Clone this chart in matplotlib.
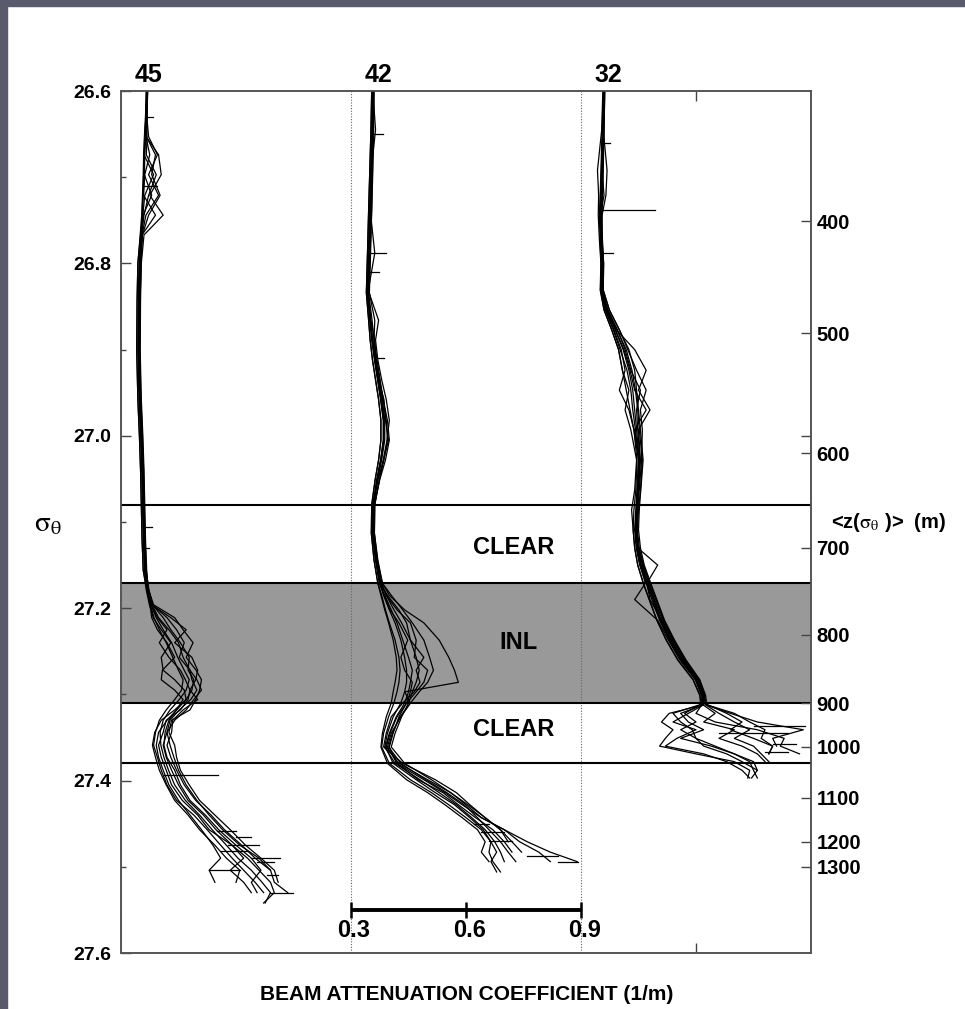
import numpy as np
import matplotlib
matplotlib.use('Agg')
import matplotlib.pyplot as plt
from matplotlib.patches import Rectangle
from matplotlib.ticker import MultipleLocator, FixedLocator

plt.rcParams['font.family'] = ['Liberation Sans', 'DejaVu Sans']
plt.rcParams['mathtext.fontset'] = 'stix'

nan = np.nan

# stations, left to right, each shifted by 0.6 1/m
stations = ['45', '42', '32']
offsets = [-0.6, 0.0, 0.6]

# isopycnal layer boundaries (sigma-theta)
clear_top = 27.080
inl_top = 27.171
inl_bot = 27.310
clear_bot = 27.380

# mean depth of the isopycnals (m) on the right axis
depth_labels = [400, 500, 600, 700, 800, 900, 1000, 1100, 1200, 1300]
depth_sigma = [26.751, 26.881, 27.020, 27.130, 27.231, 27.310, 27.361, 27.420, 27.471, 27.500]

# scale bar values (1/m)
scale_ticks = [0.3, 0.6, 0.9]

# ---- station 45 casts: beam attenuation c (1/m) vs sigma-theta
sig45 = [26.600, 26.628, 26.653, 26.674, 26.697, 26.721, 26.744, 26.767, 26.800, 26.842,
         26.900, 26.958, 27.000, 27.040, 27.080, 27.121, 27.156, 27.179, 27.196, 27.211,
         27.225, 27.240, 27.257, 27.272, 27.283, 27.295, 27.306, 27.318, 27.330, 27.344,
         27.359, 27.373, 27.388, 27.405, 27.423, 27.440, 27.457, 27.475, 27.490, 27.504,
         27.518, 27.530, 27.542]
casts45 = [
    [0.368, 0.366, 0.363, 0.361, 0.360, 0.358, 0.356, 0.352, 0.348, 0.346,
     0.345, 0.348, 0.352, 0.355, 0.357, 0.359, 0.362, 0.370, 0.378, 0.392,
     0.410, 0.432, 0.448, 0.465, 0.478, 0.470, 0.452, 0.428, 0.410, 0.402,
     0.404, 0.412, 0.424, 0.440, 0.468, 0.505, 0.538, 0.575, 0.605, 0.640,
     0.668, 0.690, 0.676],
    [0.370, 0.367, 0.372, 0.395, 0.372, 0.398, 0.365, 0.355, 0.352, 0.350,
     0.349, 0.352, 0.356, 0.359, 0.361, 0.363, 0.366, 0.372, 0.385, 0.440,
     0.462, 0.488, 0.470, 0.496, 0.510, 0.505, 0.495, 0.480, 0.432, 0.425,
     0.440, 0.445, 0.455, 0.478, 0.505, 0.545, 0.585, 0.625, 0.665, 0.700,
     0.710, nan, nan],
    [0.366, 0.365, 0.362, 0.360, 0.385, 0.362, 0.357, 0.351, 0.344, 0.342,
     0.341, 0.344, 0.348, 0.351, 0.353, 0.355, 0.358, 0.368, 0.376, 0.380,
     0.395, 0.420, 0.440, 0.408, 0.405, 0.440, 0.462, 0.445, 0.420, 0.398,
     0.392, 0.398, 0.410, 0.425, 0.450, 0.480, 0.510, 0.540, 0.560, 0.530,
     0.545, nan, nan],
    [0.368, 0.368, 0.365, 0.375, 0.362, 0.359, 0.390, 0.355, 0.349, 0.346,
     0.345, 0.348, 0.352, 0.355, 0.357, 0.360, 0.362, 0.371, 0.382, 0.410,
     0.430, 0.455, 0.478, 0.475, 0.490, 0.485, 0.470, 0.445, 0.425, 0.415,
     0.412, 0.420, 0.440, 0.455, 0.480, 0.520, 0.555, 0.600, 0.640, 0.665,
     0.640, 0.655, nan],
    [0.367, 0.366, 0.364, 0.362, 0.361, 0.380, 0.358, 0.353, 0.348, 0.346,
     0.345, 0.348, 0.352, 0.355, 0.357, 0.359, 0.362, 0.369, 0.377, 0.386,
     0.400, 0.418, 0.435, 0.450, 0.462, 0.458, 0.440, 0.418, 0.400, 0.390,
     0.385, 0.395, 0.405, 0.420, 0.445, 0.490, 0.525, 0.560, 0.590, 0.620,
     0.650, 0.672, nan],
    [0.369, 0.367, 0.366, 0.398, 0.405, 0.375, 0.410, 0.360, 0.353, 0.351,
     0.350, 0.353, 0.357, 0.360, 0.362, 0.364, 0.367, 0.371, 0.380, 0.430,
     0.470, 0.440, 0.485, 0.500, 0.495, 0.480, 0.500, 0.462, 0.435, 0.432,
     0.420, 0.430, 0.445, 0.465, 0.495, 0.535, 0.570, 0.615, 0.650, 0.690,
     nan, nan, nan],
    [0.368, 0.365, 0.363, 0.361, 0.359, 0.357, 0.355, 0.352, 0.348, 0.346,
     0.345, 0.348, 0.352, 0.355, 0.357, 0.359, 0.362, 0.370, 0.379, 0.395,
     0.420, 0.400, 0.425, 0.455, 0.468, 0.480, 0.475, 0.455, 0.418, 0.410,
     0.398, 0.405, 0.418, 0.432, 0.460, 0.500, 0.530, 0.590, 0.620, 0.585,
     0.620, 0.640, nan],
    [0.369, 0.368, 0.366, 0.390, 0.380, 0.402, 0.372, 0.356, 0.352, 0.350,
     0.349, 0.351, 0.355, 0.358, 0.360, 0.362, 0.365, 0.373, 0.383, 0.420,
     0.445, 0.465, 0.452, 0.480, 0.498, 0.510, 0.490, 0.470, 0.440, 0.420,
     0.428, 0.438, 0.450, 0.470, 0.498, 0.530, 0.565, 0.610, 0.660, 0.690,
     0.700, 0.735, nan],
    [0.366, 0.364, 0.361, 0.359, 0.358, 0.356, 0.354, 0.350, 0.344, 0.342,
     0.341, 0.344, 0.348, 0.351, 0.353, 0.355, 0.358, 0.366, 0.374, 0.384,
     0.405, 0.430, 0.405, 0.410, 0.440, 0.465, 0.470, 0.440, 0.405, 0.388,
     0.382, 0.390, 0.400, 0.418, 0.440, 0.475, 0.505, 0.545, 0.575, 0.610,
     0.600, nan, nan],
    [0.368, 0.367, 0.368, 0.366, 0.392, 0.372, 0.360, 0.354, 0.350, 0.348,
     0.347, 0.350, 0.354, 0.357, 0.359, 0.361, 0.364, 0.372, 0.381, 0.398,
     0.425, 0.450, 0.462, 0.480, 0.485, 0.498, 0.482, 0.452, 0.428, 0.420,
     0.410, 0.418, 0.432, 0.450, 0.475, 0.515, 0.548, 0.590, 0.630, 0.660,
     0.690, 0.700, 0.672],
]

# ---- station 42
sig42 = [26.600, 26.645, 26.692, 26.738, 26.788, 26.834, 26.866, 26.889, 26.912, 26.935,
         26.958, 26.982, 27.005, 27.028, 27.051, 27.080, 27.113, 27.144, 27.171, 27.185,
         27.202, 27.217, 27.237, 27.257, 27.272, 27.286, 27.297, 27.310, 27.326, 27.345,
         27.361, 27.380, 27.399, 27.414, 27.428, 27.443, 27.457, 27.471, 27.483, 27.494,
         27.506]
casts42 = [
    [0.357, 0.355, 0.352, 0.349, 0.346, 0.343, 0.350, 0.355, 0.362, 0.370,
     0.378, 0.385, 0.385, 0.378, 0.368, 0.358, 0.357, 0.365, 0.375, 0.385,
     0.400, 0.415, 0.430, 0.440, 0.445, 0.445, 0.440, 0.430, 0.410, 0.395,
     0.388, 0.415, 0.480, 0.530, 0.575, 0.615, 0.650, 0.675, 0.690, 0.700,
     nan],
    [0.360, 0.358, 0.356, 0.354, 0.350, 0.347, 0.372, 0.364, 0.370, 0.380,
     0.392, 0.400, 0.394, 0.384, 0.374, 0.362, 0.361, 0.370, 0.382, 0.400,
     0.440, 0.490, 0.530, 0.555, 0.570, 0.580, 0.440, 0.455, 0.430, 0.405,
     0.395, 0.420, 0.490, 0.545, 0.590, 0.640, 0.700, 0.760, 0.820, 0.890,
     nan],
    [0.354, 0.352, 0.349, 0.346, 0.343, 0.340, 0.346, 0.350, 0.356, 0.364,
     0.372, 0.378, 0.378, 0.372, 0.363, 0.354, 0.353, 0.360, 0.370, 0.380,
     0.390, 0.400, 0.415, 0.425, 0.428, 0.425, 0.420, 0.412, 0.398, 0.385,
     0.380, 0.400, 0.455, 0.510, 0.555, 0.600, 0.640, 0.665, 0.660, 0.670,
     0.690],
    [0.357, 0.356, 0.353, 0.350, 0.362, 0.344, 0.352, 0.362, 0.365, 0.372,
     0.386, 0.390, 0.398, 0.385, 0.370, 0.359, 0.358, 0.366, 0.378, 0.392,
     0.420, 0.455, 0.470, 0.465, 0.500, 0.490, 0.470, 0.445, 0.420, 0.402,
     0.392, 0.425, 0.500, 0.560, 0.600, 0.640, 0.700, 0.740, 0.790, 0.820,
     nan],
    [0.358, 0.357, 0.355, 0.351, 0.347, 0.344, 0.351, 0.357, 0.364, 0.373,
     0.382, 0.388, 0.388, 0.380, 0.370, 0.357, 0.356, 0.364, 0.374, 0.388,
     0.405, 0.420, 0.435, 0.450, 0.460, 0.455, 0.450, 0.440, 0.418, 0.400,
     0.390, 0.410, 0.470, 0.520, 0.570, 0.610, 0.645, 0.665, 0.680, 0.665,
     0.680],
    [0.356, 0.355, 0.352, 0.349, 0.346, 0.343, 0.349, 0.354, 0.361, 0.369,
     0.377, 0.384, 0.384, 0.377, 0.367, 0.357, 0.356, 0.364, 0.376, 0.395,
     0.425, 0.445, 0.455, 0.490, 0.470, 0.480, 0.465, 0.435, 0.405, 0.392,
     0.385, 0.435, 0.520, 0.575, 0.610, 0.650, 0.690, 0.710, nan, nan,
     nan],
    [0.357, 0.364, 0.353, 0.350, 0.347, 0.344, 0.350, 0.356, 0.363, 0.371,
     0.380, 0.386, 0.386, 0.378, 0.368, 0.358, 0.357, 0.365, 0.375, 0.386,
     0.402, 0.425, 0.448, 0.430, 0.440, 0.460, 0.455, 0.445, 0.425, 0.410,
     0.400, 0.420, 0.475, 0.540, 0.580, 0.625, 0.670, 0.700, 0.720, nan,
     nan],
    [0.360, 0.359, 0.357, 0.354, 0.351, 0.348, 0.362, 0.360, 0.368, 0.376,
     0.384, 0.392, 0.395, 0.386, 0.374, 0.362, 0.361, 0.369, 0.380, 0.392,
     0.412, 0.432, 0.455, 0.470, 0.478, 0.470, 0.460, 0.450, 0.432, 0.415,
     0.405, 0.440, 0.510, 0.560, 0.605, 0.650, 0.690, 0.720, 0.745, nan,
     nan],
    [0.354, 0.352, 0.349, 0.346, 0.343, 0.340, 0.346, 0.350, 0.356, 0.364,
     0.372, 0.378, 0.378, 0.372, 0.363, 0.354, 0.353, 0.360, 0.370, 0.378,
     0.388, 0.398, 0.410, 0.418, 0.420, 0.415, 0.410, 0.405, 0.392, 0.382,
     0.378, 0.395, 0.445, 0.500, 0.545, 0.590, 0.630, 0.650, 0.640, 0.660,
     nan],
    [0.359, 0.357, 0.355, 0.352, 0.349, 0.346, 0.355, 0.360, 0.366, 0.374,
     0.384, 0.395, 0.400, 0.390, 0.375, 0.361, 0.360, 0.368, 0.382, 0.405,
     0.435, 0.460, 0.490, 0.505, 0.515, 0.500, 0.478, 0.455, 0.428, 0.408,
     0.398, 0.430, 0.495, 0.550, 0.595, 0.630, 0.660, 0.690, 0.710, 0.730,
     nan],
]

# ---- station 32
sig32 = [26.600, 26.645, 26.692, 26.721, 26.744, 26.773, 26.800, 26.831, 26.854, 26.877,
         26.900, 26.924, 26.947, 26.970, 26.993, 27.028, 27.063, 27.086, 27.109, 27.130,
         27.150, 27.171, 27.190, 27.214, 27.237, 27.260, 27.283, 27.301, 27.312, 27.322,
         27.332, 27.341, 27.351, 27.360, 27.369, 27.378, 27.388, 27.397]
casts32 = [
    [0.360, 0.357, 0.354, 0.352, 0.350, 0.352, 0.355, 0.353, 0.366, 0.389,
     0.410, 0.425, 0.435, 0.440, 0.445, 0.452, 0.448, 0.445, 0.442, 0.445,
     0.455, 0.470, 0.485, 0.505, 0.530, 0.560, 0.600, 0.615,
     0.620, 0.530, 0.510, 0.540, 0.520, 0.505, 0.600, 0.700, 0.740, 0.735],
    [0.362, 0.360, 0.358, 0.356, 0.354, 0.355, 0.359, 0.358, 0.374, 0.400,
     0.422, 0.445, 0.470, 0.455, 0.460, 0.458, 0.452, 0.448, 0.446, 0.450,
     0.462, 0.478, 0.495, 0.515, 0.540, 0.570, 0.608, 0.622,
     0.625, 0.690, 0.760, 0.880, 0.800, 0.810, nan, nan, nan, nan],
    [0.357, 0.354, 0.343, 0.346, 0.345, 0.348, 0.352, 0.350, 0.360, 0.380,
     0.398, 0.408, 0.418, 0.428, 0.438, 0.446, 0.443, 0.438, 0.436, 0.440,
     0.448, 0.463, 0.478, 0.498, 0.523, 0.553, 0.593, 0.610,
     0.615, 0.600, 0.650, 0.760, 0.830, 0.820, 0.870, nan, nan, nan],
    [0.360, 0.358, 0.368, 0.365, 0.355, 0.352, 0.356, 0.354, 0.368, 0.392,
     0.440, 0.470, 0.450, 0.480, 0.450, 0.455, 0.450, 0.447, 0.445, 0.448,
     0.500, 0.472, 0.480, 0.510, 0.535, 0.565, 0.603, 0.618,
     0.620, 0.560, 0.580, 0.620, 0.560, 0.640, 0.700, 0.750, 0.760, nan],
    [0.360, 0.357, 0.353, 0.351, 0.349, 0.351, 0.355, 0.353, 0.364, 0.386,
     0.405, 0.415, 0.400, 0.425, 0.438, 0.450, 0.446, 0.443, 0.440, 0.444,
     0.453, 0.468, 0.440, 0.500, 0.528, 0.558, 0.598, 0.614,
     0.630, 0.680, 0.720, 0.690, 0.750, 0.800, 0.790, nan, nan, nan],
    [0.361, 0.358, 0.355, 0.360, 0.351, 0.353, 0.356, 0.355, 0.370, 0.395,
     0.415, 0.430, 0.455, 0.445, 0.448, 0.454, 0.450, 0.446, 0.443, 0.447,
     0.458, 0.474, 0.490, 0.508, 0.534, 0.565, 0.605, 0.618,
     0.610, 0.540, 0.560, 0.590, 0.600, 0.650, 0.700, 0.740, 0.750, 0.760],
    [0.359, 0.357, 0.354, 0.352, 0.350, 0.352, 0.354, 0.352, 0.363, 0.384,
     0.402, 0.420, 0.430, 0.435, 0.442, 0.450, 0.447, 0.444, 0.441, 0.446,
     0.456, 0.472, 0.488, 0.507, 0.532, 0.562, 0.600, 0.616,
     0.620, 0.580, 0.540, 0.600, 0.550, 0.520, 0.620, 0.680, 0.720, 0.740],
    [0.360, 0.358, 0.355, 0.353, 0.351, 0.353, 0.356, 0.354, 0.367, 0.390,
     0.412, 0.428, 0.440, 0.470, 0.440, 0.453, 0.449, 0.446, 0.444, 0.448,
     0.460, 0.476, 0.492, 0.512, 0.538, 0.568, 0.606, 0.620,
     0.618, 0.650, 0.620, 0.700, 0.660, 0.720, 0.760, 0.780, nan, nan],
    [0.362, 0.360, 0.357, 0.356, 0.354, 0.356, 0.359, 0.358, 0.374, 0.400,
     0.425, 0.440, 0.445, 0.450, 0.455, 0.462, 0.456, 0.452, 0.450, 0.455,
     0.465, 0.482, 0.498, 0.518, 0.544, 0.574, 0.610, 0.625,
     0.628, 0.700, 0.740, 0.780, 0.770, 0.800, 0.790, nan, nan, nan],
    [0.358, 0.355, 0.352, 0.350, 0.348, 0.350, 0.352, 0.351, 0.360, 0.380,
     0.398, 0.408, 0.425, 0.415, 0.430, 0.445, 0.440, 0.432, 0.436, 0.440,
     0.448, 0.462, 0.478, 0.498, 0.522, 0.552, 0.592, 0.610,
     0.612, 0.570, 0.600, 0.560, 0.600, 0.620, 0.680, 0.720, 0.760, 0.745],
    [0.361, 0.359, 0.356, 0.355, 0.353, 0.355, 0.358, 0.357, 0.370, 0.394,
     0.418, 0.433, 0.442, 0.448, 0.452, 0.460, 0.455, 0.450, 0.447, 0.452,
     0.463, 0.480, 0.496, 0.516, 0.542, 0.572, 0.608, 0.622,
     0.625, 0.660, 0.700, 0.740, 0.700, 0.750, 0.770, 0.790, nan, nan],
]

# single-scan spikes: station index, sigma, c from, c to
spike_station = [0, 0, 0, 0, 0, 0, 0, 0, 0, 0, 0, 0, 0, 0,
                 1, 1, 1, 1, 1, 1, 1, 1, 1,
                 2, 2, 2, 2, 2, 2, 2]
spike_sigma = [27.393, 27.475, 27.482, 27.490, 27.494, 27.504, 27.510, 27.530, 27.458,
               27.466, 26.630, 27.106, 26.710, 27.130,
               26.788, 26.810, 26.650, 27.494, 27.460, 27.470, 27.488, 27.450, 26.910,
               26.738, 26.788, 27.345, 27.337, 27.357, 27.367, 26.660]
spike_c0 = [0.412, 0.580, 0.560, 0.640, 0.655, 0.530, 0.680, 0.690, 0.550,
            0.600, 0.366, 0.358, 0.360, 0.359,
            0.346, 0.345, 0.356, 0.840, 0.640, 0.660, 0.760, 0.620, 0.362,
            0.350, 0.356, 0.660, 0.750, 0.800, 0.780, 0.357]
spike_c1 = [0.552, 0.660, 0.630, 0.715, 0.700, 0.610, 0.710, 0.750, 0.600,
            0.640, 0.383, 0.382, 0.395, 0.372,
            0.392, 0.372, 0.384, 0.892, 0.700, 0.720, 0.840, 0.660, 0.385,
            0.493, 0.383, 0.840, 0.885, 0.860, 0.840, 0.375]

W, H = 965, 1009
fig = plt.figure(figsize=(W / 100, H / 100), dpi=100)
fig.patch.set_facecolor('white')
slate = '#595b6d'
fig.patches.append(Rectangle((0, 1 - 6 / H), 1, 6 / H, transform=fig.transFigure,
                             color=slate, zorder=0))
fig.patches.append(Rectangle((0, 0), 7 / W, 1, transform=fig.transFigure,
                             color=slate, zorder=0))

ax = fig.add_axes([121 / W, 1 - 953 / H, 690 / W, 862 / H])
ax.set_xlim(-0.3, 1.5)
ax.set_ylim(27.6, 26.6)

# layers
ax.axhspan(inl_top, inl_bot, color='#999999', lw=0, zorder=1)
for s in [clear_top, inl_top, inl_bot, clear_bot]:
    ax.axhline(s, color='k', lw=1.5, zorder=3)
for off in offsets:
    ax.axvline(0.3 + off, color='#666666', ls=(0, (1, 1.5)), lw=0.8, zorder=2)

# profiles
for off, sig, casts in zip(offsets, [sig45, sig42, sig32], [casts45, casts42, casts32]):
    for c in casts:
        ax.plot(np.array(c) + off, sig, color='k', lw=0.9, zorder=4)
for k, s, c0, c1 in zip(spike_station, spike_sigma, spike_c0, spike_c1):
    ax.plot([c0 + offsets[k], c1 + offsets[k]], [s, s], color='k', lw=0.9, zorder=4)

for name, off in zip(stations, offsets):
    ax.text(0.372 + off, 26.581, name, ha='center', va='center', fontsize=18,
            fontweight='bold', clip_on=False)

ax.text(0.723, 27.130, 'CLEAR', ha='center', va='center', fontsize=17, fontweight='bold', zorder=5)
ax.text(0.736, 27.240, 'INL', ha='center', va='center', fontsize=17, fontweight='bold', zorder=5)
ax.text(0.723, 27.341, 'CLEAR', ha='center', va='center', fontsize=17, fontweight='bold', zorder=5)

# scale bar
ax.plot([scale_ticks[0], scale_ticks[-1]], [27.550, 27.550], color='k', lw=2.8,
        solid_capstyle='butt', zorder=5)
ax.vlines(scale_ticks, 27.541, 27.559, color='k', lw=1.8, zorder=5)
for v in scale_ticks:
    ax.text(v + 0.008, 27.574, '%.1f' % v, ha='center', va='center', fontsize=17,
            fontweight='bold', zorder=5)

# axes and ticks
ax.set_yticks([26.6, 26.8, 27.0, 27.2, 27.4, 27.6])
ax.set_yticklabels(['26.6', '26.8', '27.0', '27.2', '27.4', '27.6'])
ax.yaxis.set_minor_locator(MultipleLocator(0.1))
ax.tick_params(axis='y', which='major', direction='in', length=7, width=1,
               labelsize=14, pad=7, right=False, color='#444444')
ax.tick_params(axis='y', which='minor', direction='in', length=3.5, width=1,
               right=False, color='#444444')
ax.set_xticks([1.2])
ax.set_xticklabels([])
ax.tick_params(axis='x', direction='in', length=7, width=1, top=True, bottom=True,
               color='#444444')
for lab in ax.get_yticklabels():
    lab.set_fontweight('bold')

ax2 = ax.twinx()
ax2.set_ylim(27.6, 26.6)
ax2.set_yticks(depth_sigma)
ax2.set_yticklabels([str(d) for d in depth_labels])
ax2.yaxis.set_minor_locator(FixedLocator([27.0]))
ax2.tick_params(axis='y', which='major', direction='in', length=7, width=1,
                labelsize=14.5, pad=4, color='#444444')
ax2.tick_params(axis='y', which='minor', direction='in', length=7, width=1,
                color='#444444')
for lab in ax2.get_yticklabels():
    lab.set_fontweight('bold')

for a in (ax, ax2):
    for sp in a.spines.values():
        sp.set_color('#555555')
        sp.set_linewidth(1.2)

fig.text(48 / W, 1 - 523 / H, r'$\mathrm{\sigma_\theta}$', fontsize=21, ha='center', va='center')
fig.text(831 / W, 1 - 523 / H, r'<z($\mathrm{\sigma_\theta}$ )>  (m)', fontsize=14.5,
         fontweight='bold', ha='left', va='center')
fig.text(467 / W, 1 - 995 / H, 'BEAM ATTENUATION COEFFICIENT (1/m)', fontsize=15,
         fontweight='bold', ha='center', va='center')

fig.savefig('out.png', dpi=100)
